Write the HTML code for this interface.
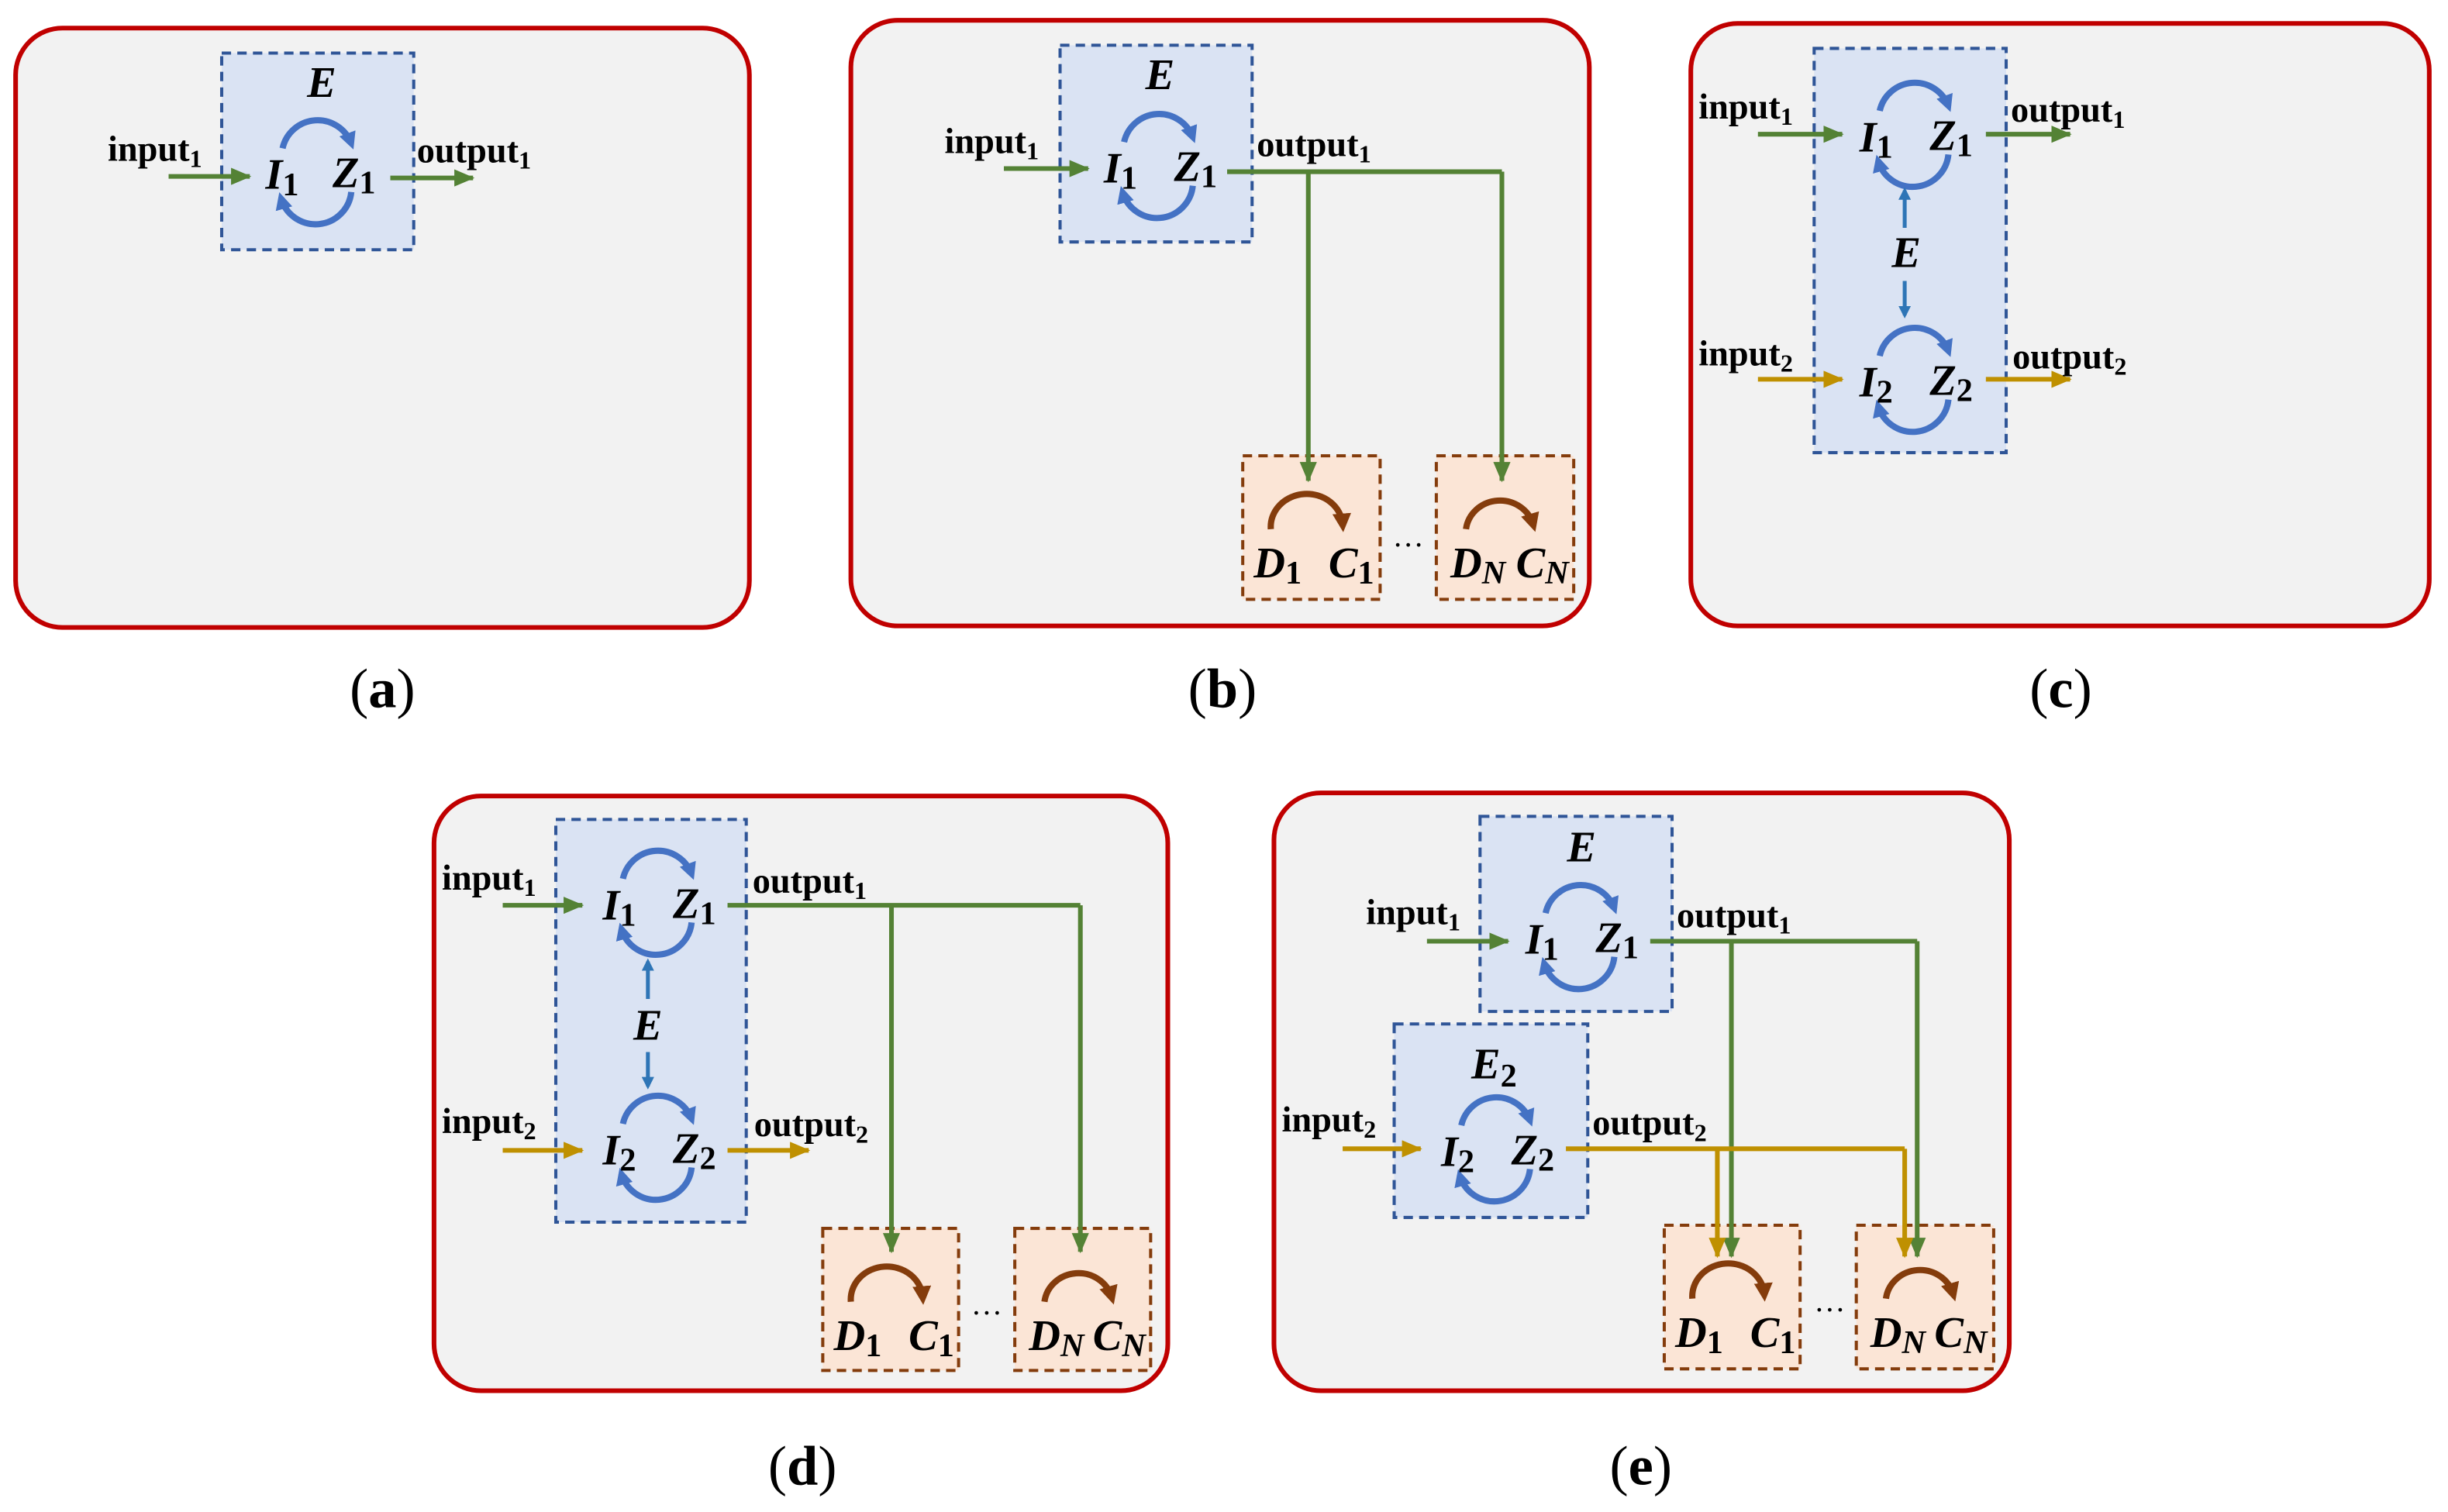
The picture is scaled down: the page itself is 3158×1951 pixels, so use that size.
<!DOCTYPE html>
<html><head><meta charset="utf-8"><style>
html,body{margin:0;padding:0;background:#fff;}
svg{display:block;}
text{font-family:"Liberation Serif",serif;font-weight:bold;fill:#000;}
.lab{font-size:23px;}
.sub{font-size:16px;}
.v{font-size:28px;font-style:italic;}
.vs{font-size:21px;font-style:normal;}
.vn{font-size:21px;font-style:italic;}
.cap{font-size:36px;font-weight:normal;}
.panel{fill:#f2f2f2;stroke:#c00000;stroke-width:3;}
.eb{fill:#dae3f3;stroke:#2f5597;stroke-width:2;stroke-dasharray:6 4;}
.db{fill:#fbe5d6;stroke:#843c0c;stroke-width:2;stroke-dasharray:6 4;}
.g{stroke:#548235;stroke-width:3;fill:none;}
.o{stroke:#bf9000;stroke-width:3;fill:none;}
.arc{stroke:#4472c4;stroke-width:4;fill:none;marker-end:url(#mb);}
.barc{stroke:#843c0c;stroke-width:4;fill:none;marker-end:url(#mr);}
.sb{stroke:#2e75b6;stroke-width:2.5;fill:none;marker-end:url(#ms);}
</style></head><body>
<svg width="3158" height="1951" viewBox="0 0 1568 968.7" preserveAspectRatio="none" xmlns="http://www.w3.org/2000/svg">
<defs>
<marker id="mg" markerUnits="userSpaceOnUse" markerWidth="13" markerHeight="11" refX="12" refY="5.5" orient="auto"><path d="M0,0 L13,5.5 L0,11 z" fill="#548235"/></marker>
<marker id="mo" markerUnits="userSpaceOnUse" markerWidth="13" markerHeight="11" refX="12" refY="5.5" orient="auto"><path d="M0,0 L13,5.5 L0,11 z" fill="#bf9000"/></marker>
<marker id="mb" markerUnits="userSpaceOnUse" markerWidth="11" markerHeight="11" refX="7" refY="5.5" orient="auto"><path d="M0,0 L11,5.5 L0,11 z" fill="#4472c4"/></marker>
<marker id="mr" markerUnits="userSpaceOnUse" markerWidth="12" markerHeight="12" refX="7" refY="6" orient="auto"><path d="M0,0 L12,6 L0,12 z" fill="#843c0c"/></marker>
<marker id="ms" markerUnits="userSpaceOnUse" markerWidth="8" markerHeight="8" refX="6" refY="4" orient="auto"><path d="M0,0 L8,4 L0,8 z" fill="#2e75b6"/></marker>
</defs>
<rect width="1568" height="968.7" fill="#fff"/>

<rect class="panel" x="10" y="18" width="470" height="384" rx="30"/>
<rect class="panel" x="545" y="13" width="473" height="388" rx="30"/>
<rect class="panel" x="1083" y="15" width="473" height="386" rx="30"/>
<rect class="panel" x="278" y="510" width="470" height="381" rx="30"/>
<rect class="panel" x="816" y="508" width="471" height="383" rx="30"/>

<rect class="eb" x="142" y="34" width="123" height="126"/>
<rect class="eb" x="679" y="29" width="123" height="126"/>
<rect class="eb" x="1162" y="31" width="123" height="259"/>
<rect class="eb" x="356" y="525" width="122" height="258"/>
<rect class="eb" x="948" y="523" width="123" height="125"/>
<rect class="eb" x="893" y="656" width="124" height="124"/>

<rect class="db" x="796" y="292" width="88" height="92"/>
<rect class="db" x="920" y="292" width="88" height="92"/>
<rect class="db" x="527" y="787" width="87" height="91"/>
<rect class="db" x="650" y="787" width="87" height="91"/>
<rect class="db" x="1066" y="785" width="87" height="92"/>
<rect class="db" x="1189" y="785" width="88" height="92"/>

<g transform="translate(202,110)"><path class="arc" d="M-21,-15 A23 23 0 0 1 23,-18"/><path class="arc" d="M23,13 A23 23 0 0 1 -22,17"/></g>
<g transform="translate(741,106)"><path class="arc" d="M-21,-15 A23 23 0 0 1 23,-18"/><path class="arc" d="M23,13 A23 23 0 0 1 -22,17"/></g>
<g transform="translate(1225,86)"><path class="arc" d="M-21,-15 A23 23 0 0 1 23,-18"/><path class="arc" d="M23,13 A23 23 0 0 1 -22,17"/></g>
<g transform="translate(1225,243)"><path class="arc" d="M-21,-15 A23 23 0 0 1 23,-18"/><path class="arc" d="M23,13 A23 23 0 0 1 -22,17"/></g>
<g transform="translate(420,578)"><path class="arc" d="M-21,-15 A23 23 0 0 1 23,-18"/><path class="arc" d="M23,13 A23 23 0 0 1 -22,17"/></g>
<g transform="translate(420,735)"><path class="arc" d="M-21,-15 A23 23 0 0 1 23,-18"/><path class="arc" d="M23,13 A23 23 0 0 1 -22,17"/></g>
<g transform="translate(1011,600)"><path class="arc" d="M-21,-15 A23 23 0 0 1 23,-18"/><path class="arc" d="M23,13 A23 23 0 0 1 -22,17"/></g>
<g transform="translate(957,736)"><path class="arc" d="M-21,-15 A23 23 0 0 1 23,-18"/><path class="arc" d="M23,13 A23 23 0 0 1 -22,17"/></g>

<g transform="translate(796,292)"><path class="barc" d="M18,47 A23 21 0 0 1 64,44"/></g>
<g transform="translate(920,292)"><path class="barc" d="M19,47 A22 21 0 0 1 62,44"/></g>
<g transform="translate(527,787)"><path class="barc" d="M18,47 A23 21 0 0 1 64,44"/></g>
<g transform="translate(650,787)"><path class="barc" d="M19,47 A22 21 0 0 1 62,44"/></g>
<g transform="translate(1066,785)"><path class="barc" d="M18,47 A23 21 0 0 1 64,44"/></g>
<g transform="translate(1189,785)"><path class="barc" d="M19,47 A22 21 0 0 1 62,44"/></g>

<path class="sb" d="M1220,146 L1220,122"/><path class="sb" d="M1220,180 L1220,202"/>
<path class="sb" d="M415,640 L415,616"/><path class="sb" d="M415,674 L415,696"/>

<path class="g" marker-end="url(#mg)" d="M108,113 L160,113"/>
<path class="g" marker-end="url(#mg)" d="M250,114 L303,114"/>
<path class="g" marker-end="url(#mg)" d="M643,108 L697,108"/>
<path class="g" d="M786,110 L962,110"/>
<path class="g" marker-end="url(#mg)" d="M962,110 L962,308"/>
<path class="g" marker-end="url(#mg)" d="M838,110 L838,308"/>
<path class="g" marker-end="url(#mg)" d="M1126,86 L1180,86"/>
<path class="g" marker-end="url(#mg)" d="M1272,86 L1326,86"/>
<path class="o" marker-end="url(#mo)" d="M1126,243 L1180,243"/>
<path class="o" marker-end="url(#mo)" d="M1272,243 L1326,243"/>
<path class="g" marker-end="url(#mg)" d="M322,580 L373,580"/>
<path class="o" marker-end="url(#mo)" d="M322,737 L373,737"/>
<path class="o" marker-end="url(#mo)" d="M466,737 L518,737"/>
<path class="g" d="M466,580 L692,580"/>
<path class="g" marker-end="url(#mg)" d="M692,580 L692,802"/>
<path class="g" marker-end="url(#mg)" d="M571,580 L571,802"/>
<path class="g" marker-end="url(#mg)" d="M914,603 L966,603"/>
<path class="o" marker-end="url(#mo)" d="M860,736 L910,736"/>
<path class="g" d="M1057,603 L1228,603"/>
<path class="g" marker-end="url(#mg)" d="M1228,603 L1228,805"/>
<path class="g" marker-end="url(#mg)" d="M1109,603 L1109,805"/>
<path class="o" d="M1003,736 L1220,736"/>
<path class="o" marker-end="url(#mo)" d="M1220,736 L1220,805"/>
<path class="o" marker-end="url(#mo)" d="M1100,736 L1100,805"/>

<text class="lab" x="69" y="103">input<tspan class="sub" dy="4">1</tspan></text>
<text class="lab" x="267" y="104">output<tspan class="sub" dy="4">1</tspan></text>
<text class="lab" x="605" y="98">input<tspan class="sub" dy="4">1</tspan></text>
<text class="lab" x="805" y="100">output<tspan class="sub" dy="4">1</tspan></text>
<text class="lab" x="1088" y="76">input<tspan class="sub" dy="4">1</tspan></text>
<text class="lab" x="1288" y="78">output<tspan class="sub" dy="4">1</tspan></text>
<text class="lab" x="1088" y="234">input<tspan class="sub" dy="4">2</tspan></text>
<text class="lab" x="1289" y="236">output<tspan class="sub" dy="4">2</tspan></text>
<text class="lab" x="283" y="570">input<tspan class="sub" dy="4">1</tspan></text>
<text class="lab" x="482" y="572">output<tspan class="sub" dy="4">1</tspan></text>
<text class="lab" x="283" y="726">input<tspan class="sub" dy="4">2</tspan></text>
<text class="lab" x="483" y="728">output<tspan class="sub" dy="4">2</tspan></text>
<text class="lab" x="875" y="592">input<tspan class="sub" dy="4">1</tspan></text>
<text class="lab" x="1074" y="594">output<tspan class="sub" dy="4">1</tspan></text>
<text class="lab" x="821" y="725">input<tspan class="sub" dy="4">2</tspan></text>
<text class="lab" x="1020" y="727">output<tspan class="sub" dy="4">2</tspan></text>

<text class="v" x="206" y="62" text-anchor="middle">E</text>
<text class="v" x="743" y="57" text-anchor="middle">E</text>
<text class="v" x="1221" y="171" text-anchor="middle">E</text>
<text class="v" x="415" y="666" text-anchor="middle">E</text>
<text class="v" x="1013" y="552" text-anchor="middle">E</text>
<text class="v" x="957" y="691" text-anchor="middle">E<tspan class="vs" dy="5">2</tspan></text>

<text class="v" x="170" y="121">I<tspan class="vs" dy="4">1</tspan></text>
<text class="v" x="213" y="120">Z<tspan class="vs" dy="4">1</tspan></text>
<text class="v" x="707" y="117">I<tspan class="vs" dy="4">1</tspan></text>
<text class="v" x="752" y="116">Z<tspan class="vs" dy="4">1</tspan></text>
<text class="v" x="1191" y="97">I<tspan class="vs" dy="4">1</tspan></text>
<text class="v" x="1236" y="96">Z<tspan class="vs" dy="4">1</tspan></text>
<text class="v" x="1191" y="254">I<tspan class="vs" dy="4">2</tspan></text>
<text class="v" x="1236" y="253">Z<tspan class="vs" dy="4">2</tspan></text>
<text class="v" x="386" y="589">I<tspan class="vs" dy="4">1</tspan></text>
<text class="v" x="431" y="588">Z<tspan class="vs" dy="4">1</tspan></text>
<text class="v" x="386" y="746">I<tspan class="vs" dy="4">2</tspan></text>
<text class="v" x="431" y="745">Z<tspan class="vs" dy="4">2</tspan></text>
<text class="v" x="977" y="611">I<tspan class="vs" dy="4">1</tspan></text>
<text class="v" x="1022" y="610">Z<tspan class="vs" dy="4">1</tspan></text>
<text class="v" x="923" y="747">I<tspan class="vs" dy="4">2</tspan></text>
<text class="v" x="968" y="746">Z<tspan class="vs" dy="4">2</tspan></text>

<text class="v" x="803" y="370">D<tspan class="vs" dy="4">1</tspan></text>
<text class="v" x="851" y="370">C<tspan class="vs" dy="4">1</tspan></text>
<text class="v" x="929" y="370">D<tspan class="vn" dy="4">N</tspan></text>
<text class="v" x="971" y="370">C<tspan class="vn" dy="4">N</tspan></text>
<text class="v" x="534" y="865">D<tspan class="vs" dy="4">1</tspan></text>
<text class="v" x="582" y="865">C<tspan class="vs" dy="4">1</tspan></text>
<text class="v" x="659" y="865">D<tspan class="vn" dy="4">N</tspan></text>
<text class="v" x="700" y="865">C<tspan class="vn" dy="4">N</tspan></text>
<text class="v" x="1073" y="863">D<tspan class="vs" dy="4">1</tspan></text>
<text class="v" x="1121" y="863">C<tspan class="vs" dy="4">1</tspan></text>
<text class="v" x="1198" y="863">D<tspan class="vn" dy="4">N</tspan></text>
<text class="v" x="1239" y="863">C<tspan class="vn" dy="4">N</tspan></text>

<text x="902" y="350" text-anchor="middle" font-size="20" style="font-weight:normal">…</text>
<text x="632" y="842" text-anchor="middle" font-size="20" style="font-weight:normal">…</text>
<text x="1172" y="840" text-anchor="middle" font-size="20" style="font-weight:normal">…</text>

<text class="cap" x="245" y="453" text-anchor="middle">(<tspan font-weight="bold">a</tspan>)</text>
<text class="cap" x="783" y="453" text-anchor="middle">(<tspan font-weight="bold">b</tspan>)</text>
<text class="cap" x="1320" y="453" text-anchor="middle">(<tspan font-weight="bold">c</tspan>)</text>
<text class="cap" x="514" y="951" text-anchor="middle">(<tspan font-weight="bold">d</tspan>)</text>
<text class="cap" x="1051" y="951" text-anchor="middle">(<tspan font-weight="bold">e</tspan>)</text>
</svg>
</body></html>
